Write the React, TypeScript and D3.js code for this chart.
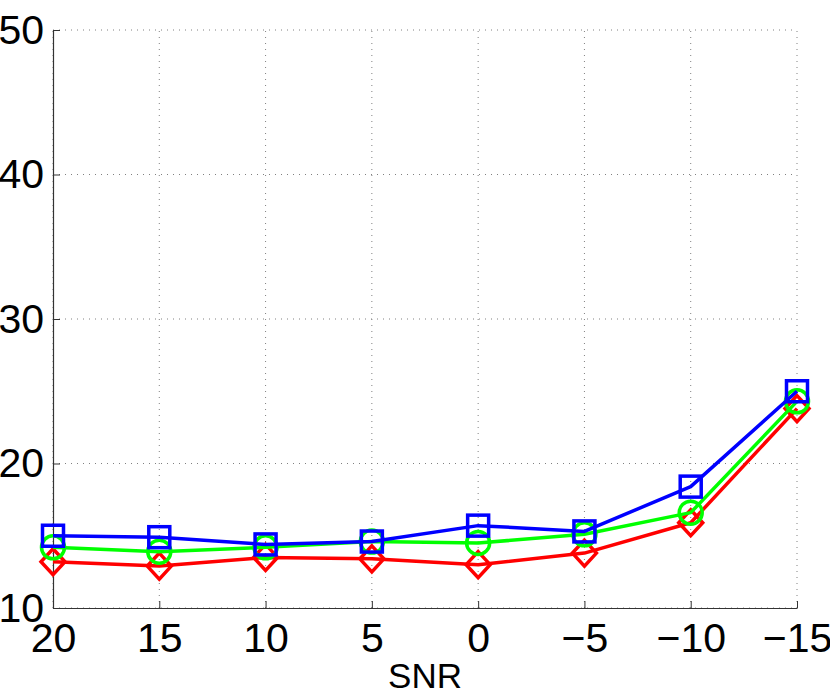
import React, { useEffect, useRef } from 'react';
import * as d3 from 'd3';

const snr = [20, 15, 10, 5, 0, -5, -10, -15];
const blueSquares = [15.0, 14.9, 14.4, 14.6, 15.7, 15.3, 18.4, 25.0];
const greenCircles = [14.2, 13.9, 14.2, 14.6, 14.5, 15.1, 16.6, 24.3];
const redDiamonds = [13.2, 12.9, 13.5, 13.4, 13.0, 13.8, 15.9, 23.8];
const yTicks = [10, 20, 30, 40, 50];

const fmt = (v: number) => (v < 0 ? '\u2212' + Math.abs(v) : String(v));

const App: React.FC = () => {
    const ref = useRef<SVGSVGElement | null>(null);

    useEffect(() => {
        if (!ref.current) return;
        const svg = d3.select(ref.current);
        svg.selectAll('*').remove();
        const width = 830;
        const height = 699;
        const margin = { top: 30, right: 33, bottom: 91, left: 53 };

        const x = d3.scalePoint<number>()
            .domain(snr)
            .range([margin.left, width - margin.right]);
        const y = d3.scaleLinear()
            .domain([10, 50])
            .range([height - margin.bottom, margin.top]);

        // grid
        const grid = svg.append('g')
            .attr('stroke', '#808080')
            .attr('stroke-width', 1)
            .attr('stroke-dasharray', '1,5');
        snr.forEach(v => {
            grid.append('line')
                .attr('x1', x(v)!).attr('x2', x(v)!)
                .attr('y1', y(10)).attr('y2', y(50));
        });
        yTicks.forEach(v => {
            grid.append('line')
                .attr('x1', x(20)!).attr('x2', x(-15)!)
                .attr('y1', y(v)).attr('y2', y(v));
        });

        // axes
        const xAxis = svg.append('g')
            .attr('transform', `translate(0,${y(10)})`)
            .call(d3.axisBottom(x).tickSizeInner(-7).tickSizeOuter(0).tickPadding(14).tickFormat(d => fmt(d as number)));
        const yAxis = svg.append('g')
            .attr('transform', `translate(${x(20)},0)`)
            .call(d3.axisLeft(y).tickValues(yTicks).tickSizeInner(-7).tickSizeOuter(0).tickPadding(9));
        [xAxis, yAxis].forEach(a => {
            a.select('.domain').attr('stroke', '#333').attr('stroke-width', 1.2);
            a.selectAll('.tick line').attr('stroke', '#333');
            a.selectAll('.tick text')
                .attr('font-family', 'Liberation Sans, Arial, sans-serif')
                .attr('font-size', 41)
                .attr('fill', '#000');
        });
        xAxis.selectAll('.tick text').attr('dy', '0.72em');

        svg.append('text')
            .attr('x', 425)
            .attr('y', 688)
            .attr('text-anchor', 'middle')
            .attr('font-family', 'Liberation Sans, Arial, sans-serif')
            .attr('font-size', 35)
            .text('SNR');

        const line = d3.line<number>()
            .x((_, i) => x(snr[i])!)
            .y(d => y(d));

        const series = [
            { values: redDiamonds, color: '#ff0000', marker: 'diamond' },
            { values: greenCircles, color: '#00ff00', marker: 'circle' },
            { values: blueSquares, color: '#0000ff', marker: 'square' },
        ];

        series.forEach(s => {
            const g = svg.append('g');
            g.append('path')
                .datum(s.values)
                .attr('d', line)
                .attr('fill', 'none')
                .attr('stroke', s.color)
                .attr('stroke-width', 3.5)
                .attr('stroke-linejoin', 'round');
            const pts = g.selectAll('.m')
                .data(s.values)
                .enter();
            if (s.marker === 'circle') {
                pts.append('circle')
                    .attr('cx', (_, i) => x(snr[i])!)
                    .attr('cy', d => y(d))
                    .attr('r', 11.5)
                    .attr('fill', 'none')
                    .attr('stroke', s.color)
                    .attr('stroke-width', 3.5);
            } else if (s.marker === 'square') {
                pts.append('rect')
                    .attr('x', (_, i) => x(snr[i])! - 10.5)
                    .attr('y', d => y(d) - 10.5)
                    .attr('width', 21)
                    .attr('height', 21)
                    .attr('fill', 'none')
                    .attr('stroke', s.color)
                    .attr('stroke-width', 3.5);
            } else {
                pts.append('path')
                    .attr('d', (d, i) => {
                        const cx = x(snr[i])!;
                        const cy = y(d);
                        return `M${cx},${cy - 13}L${cx + 12},${cy}L${cx},${cy + 13}L${cx - 12},${cy}Z`;
                    })
                    .attr('fill', 'none')
                    .attr('stroke', s.color)
                    .attr('stroke-width', 3.5);
            }
        });
    }, []);

    return <svg ref={ref} width={830} height={699} style={{ position: 'absolute', left: 0, top: 0 }} />;
};

export default App;
